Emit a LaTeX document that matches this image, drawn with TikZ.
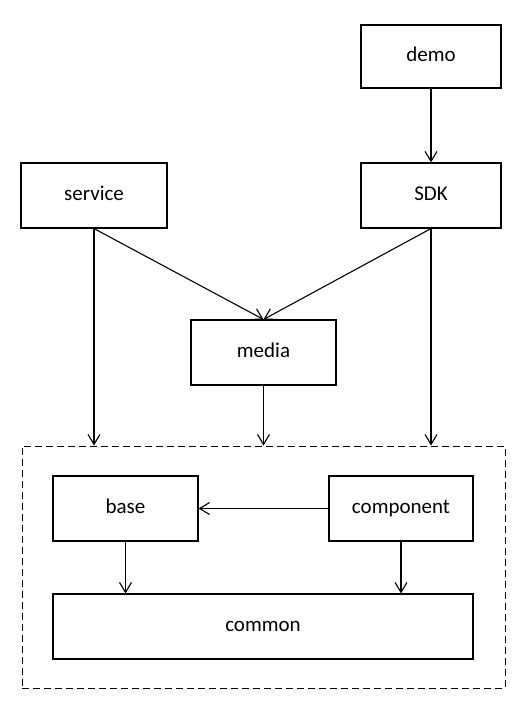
\documentclass[tikz,border=0pt]{standalone}
\usepackage{fontspec}
\setmainfont{Carlito}
\usetikzlibrary{arrows.meta}
\tikzset{
  module/.style={draw, line width=1.1pt, inner sep=0pt, text height=13pt, text depth=4pt,
    font=\fontsize{21}{24}\selectfont},
  dep/.style={-{Straight Barb[length=10pt,width=12pt]}, line width=1.1pt},
}
\begin{document}
\begin{tikzpicture}[x=1pt,y=-1pt]
\useasboundingbox (0,0) rectangle (525,705);
% outer group
\node[draw, dash pattern=on 7pt off 4pt, line width=1pt, minimum width=483pt, minimum height=242pt] (core) at (263.5,567) {};
% modules
\node[module, minimum width=140pt, minimum height=63pt] (demo) at (431,56.5) {demo};
\node[module, minimum width=146pt, minimum height=65pt] (service) at (94,195.5) {service};
\node[module, minimum width=140pt, minimum height=65pt] (sdk) at (431,195.5) {SDK};
\node[module, minimum width=145pt, minimum height=65pt] (media) at (263.5,352.5) {media};
\node[module, minimum width=145pt, minimum height=65pt] (base) at (125.5,508.5) {base};
\node[module, minimum width=144pt, minimum height=65pt] (component) at (401,508.5) {component};
\node[module, minimum width=420pt, minimum height=65pt] (common) at (263,626.5) {common};
% dependencies
\draw[dep] (demo) -- (sdk);
\draw[dep] (service.south) -- (media.north);
\draw[dep] (sdk.south) -- (media.north);
\draw[dep] (service.south) -- (service.south |- core.north);
\draw[dep] (sdk.south) -- (sdk.south |- core.north);
\draw[dep] (media) -- (media |- core.north);
\draw[dep] (component) -- (base);
\draw[dep] (base) -- (base |- common.north);
\draw[dep] (component) -- (component |- common.north);
\end{tikzpicture}
\end{document}
